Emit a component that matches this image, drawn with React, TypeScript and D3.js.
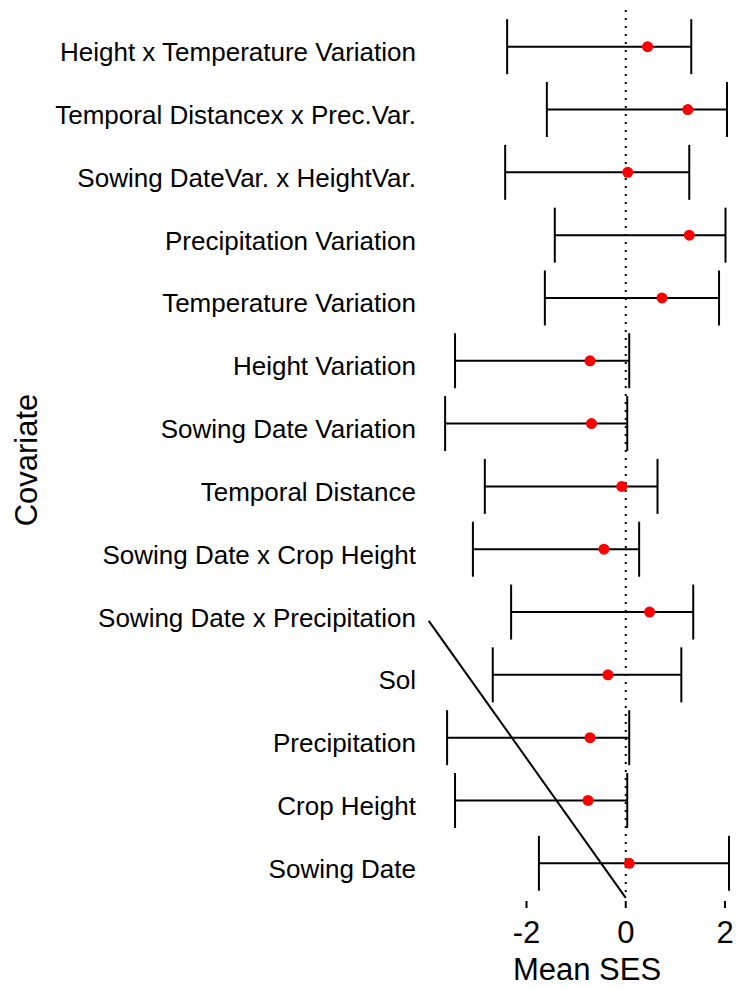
import React from "react";
import * as d3 from "d3";

const covariates = [
  "Height x Temperature Variation",
  "Temporal Distancex x Prec.Var.",
  "Sowing DateVar. x HeightVar.",
  "Precipitation Variation",
  "Temperature Variation",
  "Height Variation",
  "Sowing Date Variation",
  "Temporal Distance",
  "Sowing Date x Crop Height",
  "Sowing Date x Precipitation",
  "Sol",
  "Precipitation",
  "Crop Height",
  "Sowing Date",
];
const meanSES = [0.44, 1.25, 0.04, 1.28, 0.73, -0.72, -0.69, -0.08, -0.44, 0.48, -0.36, -0.72, -0.76, 0.07];
const lower = [-2.39, -1.59, -2.43, -1.43, -1.63, -3.44, -3.64, -2.84, -3.08, -2.31, -2.68, -3.6, -3.44, -1.75];
const upper = [1.32, 2.04, 1.28, 2.01, 1.88, 0.07, 0.03, 0.64, 0.27, 1.36, 1.12, 0.07, 0.03, 2.08];
const xTicks = [-2, 0, 2];
// stray diagonal segment: [x, row position]
const strayLine: [number, number][] = [
  [-3.97, 9.14],
  [0, 13.55],
];

const W = 737;
const H = 988;

export default function App() {
  const x = d3.scaleLinear().domain([-2, 2]).range([526.5, 725]);
  const yIdx = d3.scaleLinear().domain([0, covariates.length - 1]).range([46.7, 863.3]);
  const y = (i: number) => yIdx(i);
  const cap = 27.5;
  const line = d3
    .line<[number, number]>()
    .x((d) => x(d[0]))
    .y((d) => yIdx(d[1]));
  const font = "'Liberation Sans', Arial, sans-serif";

  return (
    <svg
      width={W}
      height={H}
      style={{ position: "absolute", left: 0, top: 0, background: "#fff" }}
      fontFamily={font}
    >
      <rect x={0} y={0} width={W} height={H} fill="#fff" />
      {/* zero reference */}
      <line
        x1={x(0)}
        x2={x(0)}
        y1={10}
        y2={898}
        stroke="#000"
        strokeWidth={2}
        strokeDasharray="2,6"
      />
      {covariates.map((c, i) => (
        <g key={c}>
          <line x1={x(lower[i])} x2={x(upper[i])} y1={y(i)} y2={y(i)} stroke="#000" strokeWidth={2} />
          <line x1={x(lower[i])} x2={x(lower[i])} y1={y(i) - cap} y2={y(i) + cap} stroke="#000" strokeWidth={2} />
          <line x1={x(upper[i])} x2={x(upper[i])} y1={y(i) - cap} y2={y(i) + cap} stroke="#000" strokeWidth={2} />
          <circle cx={x(meanSES[i])} cy={y(i)} r={5.5} fill="#ff0000" />
          <text x={416} y={y(i) + 14.5} textAnchor="end" fontSize={26} fill="#000">
            {c}
          </text>
        </g>
      ))}
      <path d={line(strayLine) || ""} fill="none" stroke="#000" strokeWidth={2} />
      {xTicks.map((t) => (
        <g key={t}>
          <line x1={x(t)} x2={x(t)} y1={901} y2={908} stroke="#000" strokeWidth={2} />
          <text x={x(t)} y={943} textAnchor="middle" fontSize={31} fill="#000">
            {t}
          </text>
        </g>
      ))}
      <text x={587} y={980} textAnchor="middle" fontSize={31} fill="#000">
        Mean SES
      </text>
      <text
        transform={`translate(37,460) rotate(-90)`}
        textAnchor="middle"
        fontSize={31}
        fill="#000"
      >
        Covariate
      </text>
    </svg>
  );
}
